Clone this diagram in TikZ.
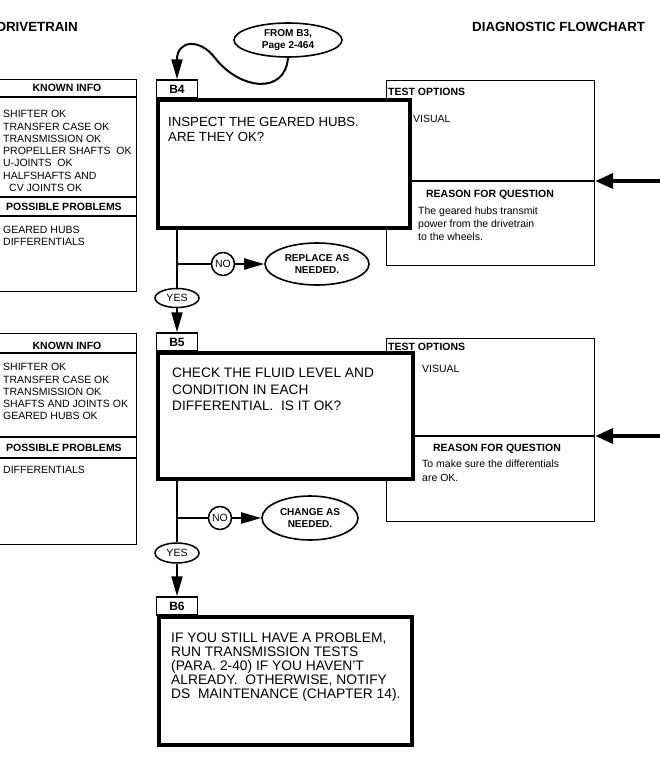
\documentclass[tikz,border=0pt]{standalone}
\usepackage{fontspec}
\setmainfont{Liberation Sans}
\usetikzlibrary{arrows.meta,shapes.geometric}
\begin{document}
\begin{tikzpicture}[x=1pt,y=-1pt,
  infobox/.style={draw, line width=1.2pt, inner sep=0pt, anchor=north west},
  qbox/.style={draw, line width=3.5pt, fill=white, inner sep=0pt, anchor=north west},
  tagbox/.style={draw, line width=1.5pt, fill=white, inner sep=0pt, minimum width=41pt, minimum height=18pt, font=\fontsize{12}{12}\selectfont\bfseries},
  hdr/.style={inner sep=0pt, font=\fontsize{10.5}{12}\selectfont\bfseries},
  lst/.style={inner sep=0pt, align=left, anchor=north west, font=\fontsize{10.5}{12.3}\selectfont},
  oval/.style={draw, ellipse, line width=1.6pt, fill=white, inner sep=0pt, align=center, font=\fontsize{10}{12.5}\selectfont\bfseries},
  yesno/.style={draw, ellipse, line width=1.5pt, fill=white, inner sep=0pt, font=\fontsize{10.5}{11}\selectfont},
  title/.style={inner sep=0pt, font=\fontsize{13.3}{14}\selectfont\bfseries},
  conn/.style={line width=2pt},
  arr/.style={conn, -{Triangle[length=20pt,width=11pt]}},
  side/.style={line width=4pt, -{Triangle[length=18pt,width=15pt]}}
]
\fill[white] (0,0) rectangle (659,758);
\useasboundingbox (0,0) rectangle (659,758);

% titles
\node[title, anchor=base east] (ttl) at (78,31.5) {DRIVETRAIN};
\node[title, anchor=base west] (ttr) at (472,31.5) {DIAGNOSTIC FLOWCHART};

% entry oval
\node[oval, minimum width=108pt, minimum height=34pt] (from) at (288,40) {FROM B3,\\Page 2-464};

% ================= B4 =================
\node[infobox, minimum width=138pt, minimum height=212pt] (k4) at (-2,79) {};
\draw[line width=1.2pt] (k4.west |- 0,97) -- (k4.east |- 0,97);
\draw[line width=1.2pt] (k4.west |- 0,197) -- (k4.east |- 0,197);
\draw[line width=1.2pt] (k4.west |- 0,216) -- (k4.east |- 0,216);
\node[hdr] (k4h) at (67,88) {KNOWN INFO};
\node[lst] (k4l) at (3,110.2) {SHIFTER OK\\TRANSFER CASE OK\\TRANSMISSION OK\\PROPELLER SHAFTS\ \ OK\\U-JOINTS\ \ OK\\HALFSHAFTS AND\\\hspace{6pt}CV JOINTS OK};
\node[hdr] (k4p) at (64,206.5) {POSSIBLE PROBLEMS};
\node[lst] (k4q) at (3,225.7) {GEARED HUBS\\DIFFERENTIALS};

\node[infobox, minimum width=208pt, minimum height=185pt] (t4) at (386,80) {};
\draw[line width=2.5pt] (t4.west |- 0,181) -- (t4.east |- 0,181);
\node[hdr, anchor=west] (t4h) at (388,92) {TEST OPTIONS};
\node[lst, anchor=west, font=\fontsize{10.5}{12}\selectfont] (t4v) at (413,119) {VISUAL};
\node[hdr] (t4r) at (490,195) {REASON FOR QUESTION};
\node[lst, font=\fontsize{10.5}{13}\selectfont] (t4t) at (418,206.2) {The geared hubs transmit\\power from the drivetrain\\to the wheels.};
\coordinate (r4) at (662,181);
\draw[side] (r4) -- (t4.east |- r4);

\node[tagbox] (b4tag) at (177,89) {B4};
\node[qbox, minimum width=252pt, minimum height=128pt] (b4) at (156,98) {};
\node[lst, font=\fontsize{13.2}{15}\selectfont] (b4t) at (168,117.3) {INSPECT THE GEARED HUBS.\\ARE THEY OK?};

\draw[arr] (from.south) .. controls (285,95) and (240,90) .. (215,58)
  .. controls (200,38) and (177,40) .. (b4tag.north);

\coordinate (j1) at (177,264);
\node[yesno, circle, minimum size=23pt] (no1) at (223,264) {NO};
\node[oval, minimum width=104pt, minimum height=42pt] (rep) at (317,264) {REPLACE AS\\NEEDED.};
\node[yesno, minimum width=44pt, minimum height=19pt] (yes1) at (177,298) {YES};
\draw[conn] (j1 |- b4.south) -- (yes1.north);
\draw[conn] (j1) -- (no1.west);
\draw[arr] (no1.east) -- (rep.west);

% ================= B5 =================
\node[infobox, minimum width=138pt, minimum height=211pt] (k5) at (-2,333) {};
\draw[line width=1.2pt] (k5.west |- 0,353) -- (k5.east |- 0,353);
\draw[line width=1.2pt] (k5.west |- 0,437) -- (k5.east |- 0,437);
\draw[line width=1.2pt] (k5.west |- 0,458) -- (k5.east |- 0,458);
\node[hdr] (k5h) at (67,345.5) {KNOWN INFO};
\node[lst] (k5l) at (3,363.2) {SHIFTER OK\\TRANSFER CASE OK\\TRANSMISSION OK\\SHAFTS AND JOINTS OK\\GEARED HUBS OK};
\node[hdr] (k5p) at (64,448) {POSSIBLE PROBLEMS};
\node[lst] (k5q) at (3,465.7) {DIFFERENTIALS};

\node[infobox, minimum width=208pt, minimum height=183pt] (t5) at (386,338) {};
\draw[line width=2.5pt] (t5.west |- 0,436) -- (t5.east |- 0,436);
\node[hdr, anchor=west] (t5h) at (388,347) {TEST OPTIONS};
\node[lst, anchor=west, font=\fontsize{10.5}{12}\selectfont] (t5v) at (422,368.5) {VISUAL};
\node[hdr] (t5r) at (497,449) {REASON FOR QUESTION};
\node[lst, font=\fontsize{10.5}{14}\selectfont] (t5t) at (422,459.2) {To make sure the differentials\\are OK.};
\coordinate (r5) at (662,436);
\draw[side] (r5) -- (t5.east |- r5);

\node[tagbox] (b5tag) at (177,342) {B5};
\node[qbox, minimum width=255pt, minimum height=126pt] (b5) at (156,351) {};
\node[lst, font=\fontsize{13.7}{16.2}\selectfont] (b5t) at (172,368.1) {CHECK THE FLUID LEVEL AND\\CONDITION IN EACH\\DIFFERENTIAL.\ \ IS IT OK?};
\draw[arr] (yes1.south) -- (b5tag.north);

\coordinate (j2) at (177,518);
\node[yesno, circle, minimum size=23pt] (no2) at (220,518) {NO};
\node[oval, minimum width=96pt, minimum height=44pt] (chg) at (310,518) {CHANGE AS\\NEEDED.};
\node[yesno, minimum width=44pt, minimum height=20pt] (yes2) at (177,553) {YES};
\draw[conn] (j2 |- b5.south) -- (yes2.north);
\draw[conn] (j2) -- (no2.west);
\draw[arr] (no2.east) -- (chg.west);

% ================= B6 =================
\node[tagbox] (b6tag) at (177,606) {B6};
\node[qbox, minimum width=253pt, minimum height=128pt] (b6) at (157,615) {};
\node[lst, font=\fontsize{13.8}{13.8}\selectfont] (b6t) at (171,633.1) {IF YOU STILL HAVE A PROBLEM,\\RUN TRANSMISSION TESTS\\(PARA. 2-40) IF YOU HAVEN'T\\ALREADY.\ \ OTHERWISE, NOTIFY\\DS\ \ MAINTENANCE (CHAPTER 14).};
\draw[arr] (yes2.south) -- (b6tag.north);
\end{tikzpicture}
\end{document}
